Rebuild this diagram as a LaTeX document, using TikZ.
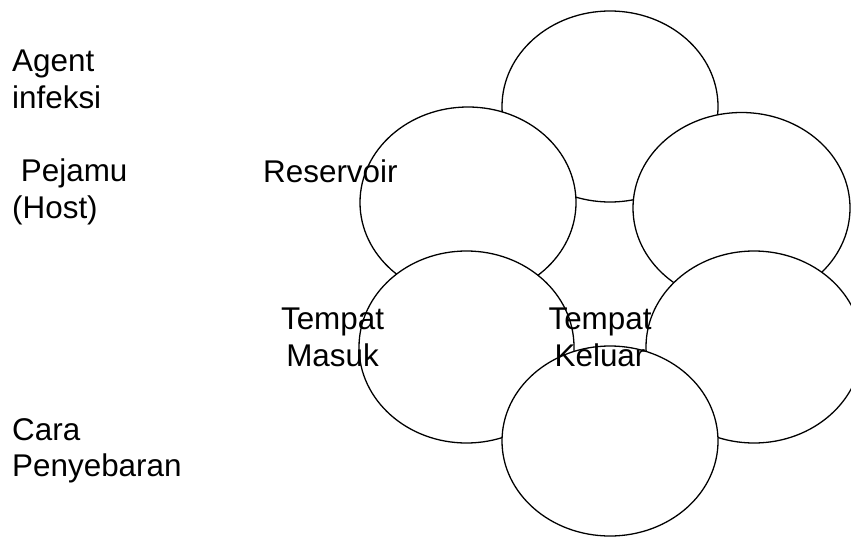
\documentclass[tikz,border=0pt]{standalone}
\usepackage{fontspec}
\setmainfont{Liberation Sans}
\begin{document}
\begin{tikzpicture}[x=0.03cm,y=-0.03cm,lingkaran/.style={draw,fill=white,line width=1.1pt},teks/.style={inner sep=0pt,font=\fontsize{26.8}{31.2}\selectfont}]
 \useasboundingbox (0,0) rectangle (851,537);
 \draw[lingkaran](610,106.5) ellipse (108 and 95.5);
 \draw[lingkaran](468,202.5) ellipse (108 and 95.5);
 \draw[lingkaran](741.5,208) ellipse (108.5 and 95.5);
 \draw[lingkaran](466.5,347) ellipse (107.5 and 96);
 \draw[lingkaran](754,347) ellipse (108 and 96);
 \draw[lingkaran](610,441) ellipse (108 and 95);
 \node[teks,anchor=base west,align=left] (agen) at (12,108.3) {Agent\\infeksi};
 \node[teks,anchor=base west,align=left] (pejamu) at (12,218) {\ Pejamu\\(Host)};
 \node[teks,anchor=base west,align=left] (cara) at (12,476.7) {Cara\\Penyebaran};
 \node[teks,anchor=base west] (reservoir) at (263,182.3) {Reservoir};
 \node[teks,anchor=base,align=center] (masuk) at (332.5,366) {Tempat\\Masuk};
 \node[teks,anchor=base,align=center] (keluar) at (600,366) {Tempat\\Keluar};
\end{tikzpicture}
\end{document}
